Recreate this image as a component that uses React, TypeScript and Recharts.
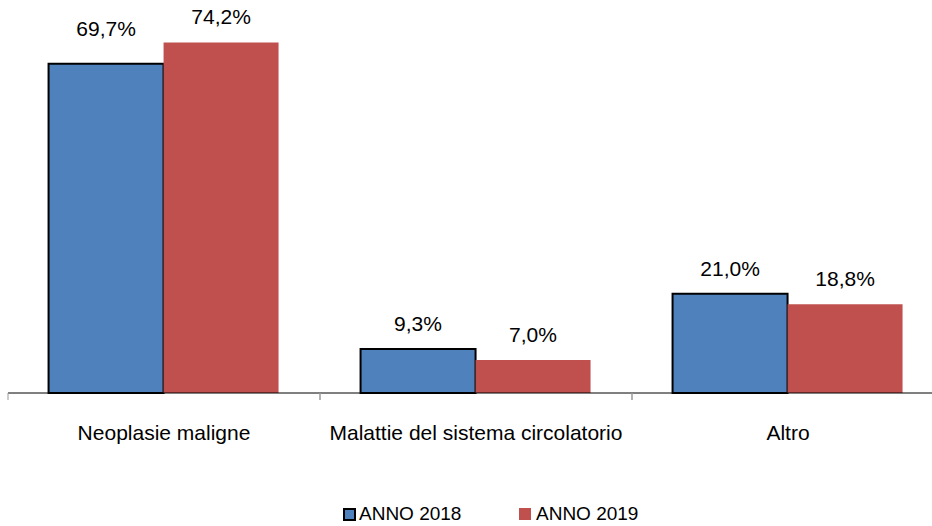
import { BarChart, Bar, XAxis, YAxis, LabelList } from "recharts";

const categories = ["Neoplasie maligne", "Malattie del sistema circolatorio", "Altro"];
const anno2018 = [69.7, 9.3, 21.0];
const anno2019 = [74.2, 7.0, 18.8];

const data = categories.map((name, i) => ({
  name,
  y2018: anno2018[i],
  y2019: anno2019[i],
}));

const FONT = "'Liberation Sans', Arial, sans-serif";
const PLOT_LEFT = 8;
const PLOT_RIGHT = 944;
const BAND = (PLOT_RIGHT - PLOT_LEFT) / categories.length;

const fmt = (v: number) => `${v.toFixed(1).replace(".", ",")}%`;

// Excel-like value label, sitting above the bar
const makeLabel = (extraLift: number[]) => (props: any) => {
  const { x, y, width, value, index } = props;
  const lift = 25 + (extraLift[index] || 0);
  return (
    <text x={x + width / 2} y={y - lift + 7} textAnchor="middle" fontFamily={FONT} fontSize={21} fill="#000">
      {fmt(Number(value))}
    </text>
  );
};

// category label plus tick marks at the band boundaries
const CategoryTick = (props: any) => {
  const { x, y, payload } = props;
  return (
    <g>
      <line x1={x - BAND / 2} y1={y - 8} x2={x - BAND / 2} y2={y - 1} stroke="#999" />
      <line x1={x + BAND / 2} y1={y - 8} x2={x + BAND / 2} y2={y - 1} stroke="#999" />
      <text x={x} y={y + 39} textAnchor="middle" fontFamily={FONT} fontSize={21} fill="#000">
        {payload.value}
      </text>
    </g>
  );
};

const LegendBox = () => (
  <div
    style={{
      position: "absolute",
      top: 503,
      left: 0,
      width: 932,
      height: 22,
      fontFamily: FONT,
      fontSize: 19,
      color: "#000",
    }}
  >
    <div style={{ position: "absolute", left: 343, top: 0, display: "flex", alignItems: "center", height: 22 }}>
      <span style={{ width: 9, height: 9, background: "#4F81BD", border: "2px solid #000", marginRight: 3 }} />
      ANNO 2018
    </div>
    <div style={{ position: "absolute", left: 519, top: 0, display: "flex", alignItems: "center", height: 22 }}>
      <span style={{ width: 12, height: 12, background: "#C0504D", marginRight: 5 }} />
      ANNO 2019
    </div>
  </div>
);

export default function App() {
  return (
    <div style={{ position: "absolute", left: 0, top: 0, width: 932, height: 526, overflow: "hidden", background: "#fff" }}>
      <BarChart
        width={PLOT_RIGHT}
        height={526}
        data={data}
        margin={{ top: 15, right: 0, bottom: 93, left: PLOT_LEFT }}
        barCategoryGap="13%"
        barGap={0}
      >
        <XAxis
          dataKey="name"
          axisLine={{ stroke: "#000", strokeWidth: 1 }}
          tickLine={false}
          tick={<CategoryTick />}
          height={40}
          interval={0}
        />
        <YAxis hide domain={[0, 80]} />
        <Bar dataKey="y2018" name="ANNO 2018" fill="#4F81BD" stroke="#000" strokeWidth={2} isAnimationActive={false}>
          <LabelList dataKey="y2018" content={makeLabel([10, 0, 0])} />
        </Bar>
        <Bar dataKey="y2019" name="ANNO 2019" fill="#C0504D" isAnimationActive={false}>
          <LabelList dataKey="y2019" content={makeLabel([0, 0, 0])} />
        </Bar>
      </BarChart>
      <LegendBox />
    </div>
  );
}
